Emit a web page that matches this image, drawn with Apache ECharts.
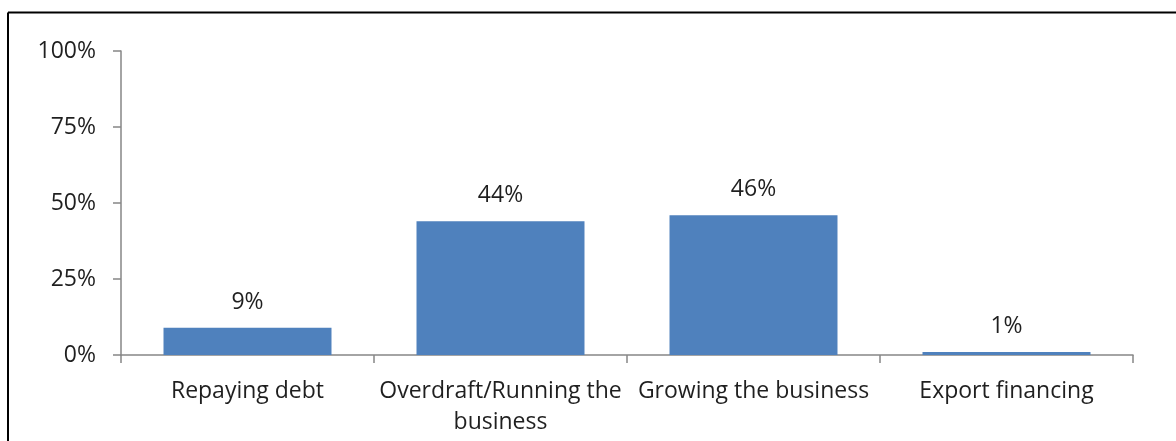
<!DOCTYPE html>
<html>
<head>
<meta charset="utf-8">
<script src="https://cdn.jsdelivr.net/npm/echarts@6/dist/echarts.min.js"></script>
<style>
  html, body { margin: 0; padding: 0; background: #fff; }
  #chart { width: 1176px; height: 441px; }
</style>
</head>
<body>
<div id="chart"></div>
<script>
// Uses of finance, share of respondents (%)
const categories = ['Repaying debt', 'Overdraft/Running the\nbusiness', 'Growing the business', 'Export financing'];
const shares = [9, 44, 46, 1];
const yTicks = [0, 25, 50, 75, 100];

const FONT = 'Open Sans';
const TEXT = '#1f1f1f';
const AXIS = '#868686';

const chart = echarts.init(document.getElementById('chart'));
chart.setOption({
  animation: false,
  backgroundColor: '#ffffff',
  grid: { left: 121, right: 43, top: 51, bottom: 86, containLabel: false },
  graphic: [
    { type: 'line', shape: { x1: 8, y1: 12.5, x2: 1176, y2: 12.5 }, style: { stroke: '#000', lineWidth: 2 } },
    { type: 'line', shape: { x1: 8, y1: 12.5, x2: 8, y2: 441 }, style: { stroke: '#000', lineWidth: 2 } }
  ],
  xAxis: {
    type: 'category',
    data: categories,
    axisLine: { lineStyle: { color: AXIS, width: 1.5 } },
    axisTick: { show: true, length: 8, alignWithLabel: false, lineStyle: { color: AXIS, width: 1.5 } },
    axisLabel: { color: TEXT, fontFamily: FONT, fontSize: 23, margin: 21, lineHeight: 31, interval: 0 }
  },
  yAxis: {
    type: 'value',
    min: yTicks[0],
    max: yTicks[yTicks.length - 1],
    interval: yTicks[1] - yTicks[0],
    axisLine: { show: true, lineStyle: { color: AXIS, width: 1.5 } },
    axisTick: { show: true, length: 8, lineStyle: { color: AXIS, width: 1.5 } },
    splitLine: { show: false },
    axisLabel: { color: TEXT, fontFamily: FONT, fontSize: 23, margin: 25, formatter: v => v + '%' }
  },
  series: [{
    type: 'bar',
    data: shares,
    barCategoryGap: '33.6%',
    itemStyle: { color: '#4F81BD' },
    label: {
      show: true,
      position: 'top',
      distance: 14,
      color: TEXT,
      fontFamily: FONT,
      fontSize: 23,
      formatter: p => p.value + '%'
    }
  }]
});
</script>
</body>
</html>
